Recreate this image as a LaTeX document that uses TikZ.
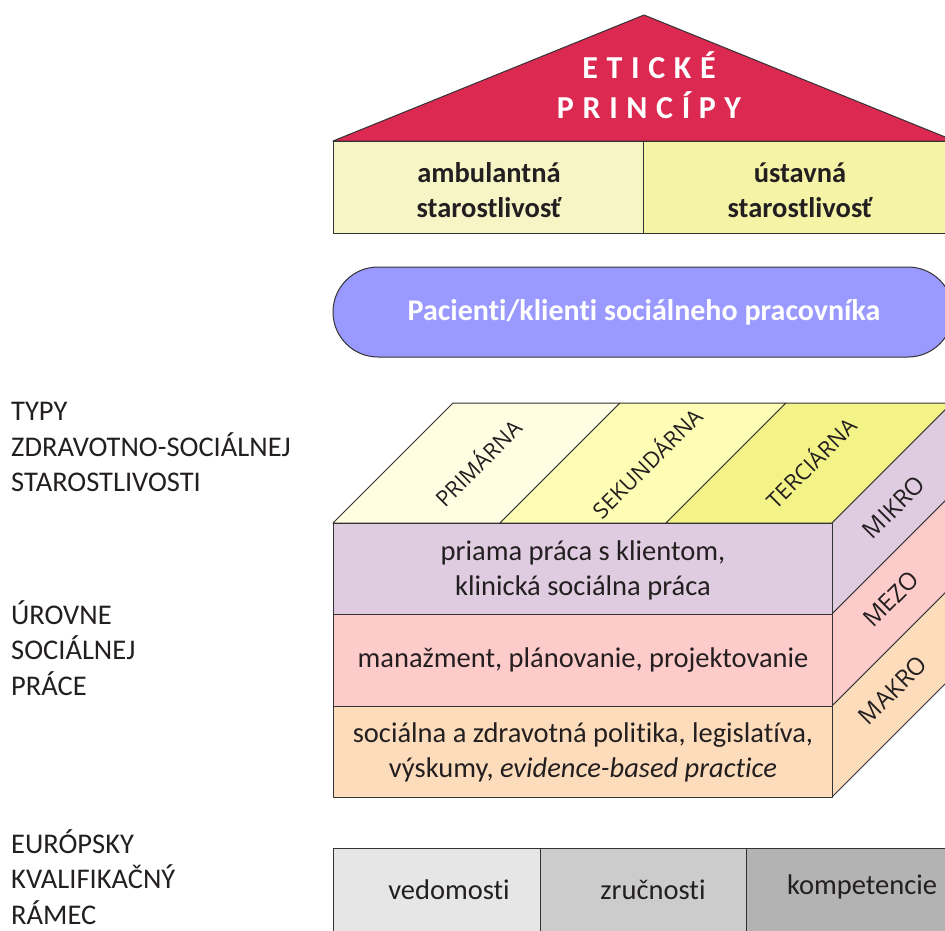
\documentclass[tikz,border=0pt]{standalone}
\usepackage{fontspec}
\setmainfont[Ligatures=NoCommon]{Carlito}
\newfontfamily\osans{Open Sans}
\definecolor{roofred}{HTML}{DC2951}
\definecolor{ambY}{HTML}{F7F5C6}
\definecolor{ustY}{HTML}{F5F3A6}
\definecolor{pill}{HTML}{9999FF}
\definecolor{topA}{HTML}{FFFEE2}
\definecolor{topB}{HTML}{FEFDB6}
\definecolor{topC}{HTML}{F4F388}
\definecolor{mikro}{HTML}{DFCCE0}
\definecolor{mezo}{HTML}{FECBCB}
\definecolor{makro}{HTML}{FDDCBB}
\definecolor{grA}{HTML}{E6E6E6}
\definecolor{grB}{HTML}{CCCCCC}
\definecolor{grC}{HTML}{B3B3B3}
\definecolor{ink}{HTML}{231F20}
\definecolor{edge}{HTML}{333333}
\tikzset{
  face/.style={draw=edge, line width=1pt, line join=round},
  lbl/.style={font=\fontsize{28.5}{35.5}\selectfont, text=ink, align=left, anchor=west, inner sep=0pt},
  fronttxt/.style={font=\fontsize{28.5}{35}\selectfont, text=ink, align=center, inner sep=0pt},
  toptxt/.style={font=\osans\fontsize{22}{24}\selectfont, text=ink, rotate=45, inner sep=0pt},
  sidetxt/.style={font=\osans\fontsize{24}{26}\selectfont, text=ink, rotate=45, inner sep=0pt},
  boxtxt/.style={font=\bfseries\fontsize{28.5}{35}\selectfont, text=ink, align=center, inner sep=0pt},
  graytxt/.style={font=\fontsize{28.5}{30}\selectfont, text=ink, inner sep=0pt}
}
\begin{document}
\begin{tikzpicture}[x=1pt,y=-1pt]
\useasboundingbox (0,0) rectangle (945,930);
\clip (0,0) rectangle (945,930);
% roof
\filldraw[face, fill=roofred] (333,141) -- (644,15) -- (955,141) -- cycle;
\node[font=\bfseries\addfontfeature{LetterSpace=27}\fontsize{32}{40}\selectfont, text=white, align=center, inner sep=0pt] (roof) at (649,85) {ETICKÉ\\PRINCÍPY};
% care boxes
\filldraw[face, fill=ambY] (333,141) rectangle (643,233);
\filldraw[face, fill=ustY] (643,141) rectangle (960,233);
\node[boxtxt] (amb) at (489,190) {ambulantná\\starostlivosť};
\node[boxtxt] (ust) at (800,190) {ústavná\\starostlivosť};
% pill
\filldraw[face, fill=pill, rounded corners=45pt] (333,267) rectangle (953,357);
\node[font=\bfseries\fontsize{30}{32}\selectfont, text=white, inner sep=0pt] (pac) at (644,312) {Pacienti/klienti sociálneho pracovníka};
% cube top
\filldraw[face, fill=topA] (333,523) -- (453,403) -- (620,403) -- (500,523) -- cycle;
\filldraw[face, fill=topB] (500,523) -- (620,403) -- (786,403) -- (666,523) -- cycle;
\filldraw[face, fill=topC] (666,523) -- (786,403) -- (952,403) -- (832,523) -- cycle;
\node[toptxt] (prim) at (477,462) {PRIMÁRNA};
\node[toptxt] (sek) at (646,462) {SEKUNDÁRNA};
\node[toptxt] (ter) at (810,462) {TERCIÁRNA};
% cube side
\filldraw[face, fill=mikro] (832,523) -- (952,403) -- (952,494) -- (832,614) -- cycle;
\filldraw[face, fill=mezo] (832,614) -- (952,494) -- (952,586) -- (832,706) -- cycle;
\filldraw[face, fill=makro] (832,706) -- (952,586) -- (952,677) -- (832,797) -- cycle;
\node[sidetxt] (mik) at (894,507) {MIKRO};
\node[sidetxt] (mez) at (891,599) {MEZO};
\node[sidetxt] (mak) at (893,690) {MAKRO};
% cube front
\filldraw[face, fill=mikro] (333,523) rectangle (832,614);
\filldraw[face, fill=mezo] (333,614) rectangle (832,706);
\filldraw[face, fill=makro] (333,706) rectangle (832,797);
\node[fronttxt] (f1) at (583,570) {priama práca s klientom,\\klinická sociálna práca};
\node[fronttxt] (f2) at (583,660) {manažment, plánovanie, projektovanie};
\node[fronttxt] (f3) at (583,752) {sociálna a zdravotná politika, legislatíva,\\výskumy, \textit{evidence-based practice}};
% EQF
\filldraw[face, fill=grA] (333,848) rectangle (540,960);
\filldraw[face, fill=grB] (540,848) rectangle (746,960);
\filldraw[face, fill=grC] (746,848) rectangle (960,960);
\node[graytxt] (ved) at (449,890) {vedomosti};
\node[graytxt] (zru) at (653,890) {zručnosti};
\node[graytxt] (kom) at (862,887) {kompetencie};
% left labels
\node[lbl] (typy) at (11,447) {TYPY\\ZDRAVOTNO-SOCIÁLNEJ\\STAROSTLIVOSTI};
\node[lbl] (urov) at (11,648) {ÚROVNE\\SOCIÁLNEJ\\PRÁCE};
\node[lbl] (eqf) at (11,877) {EURÓPSKY\\KVALIFIKAČNÝ\\RÁMEC};
\end{tikzpicture}
\end{document}
